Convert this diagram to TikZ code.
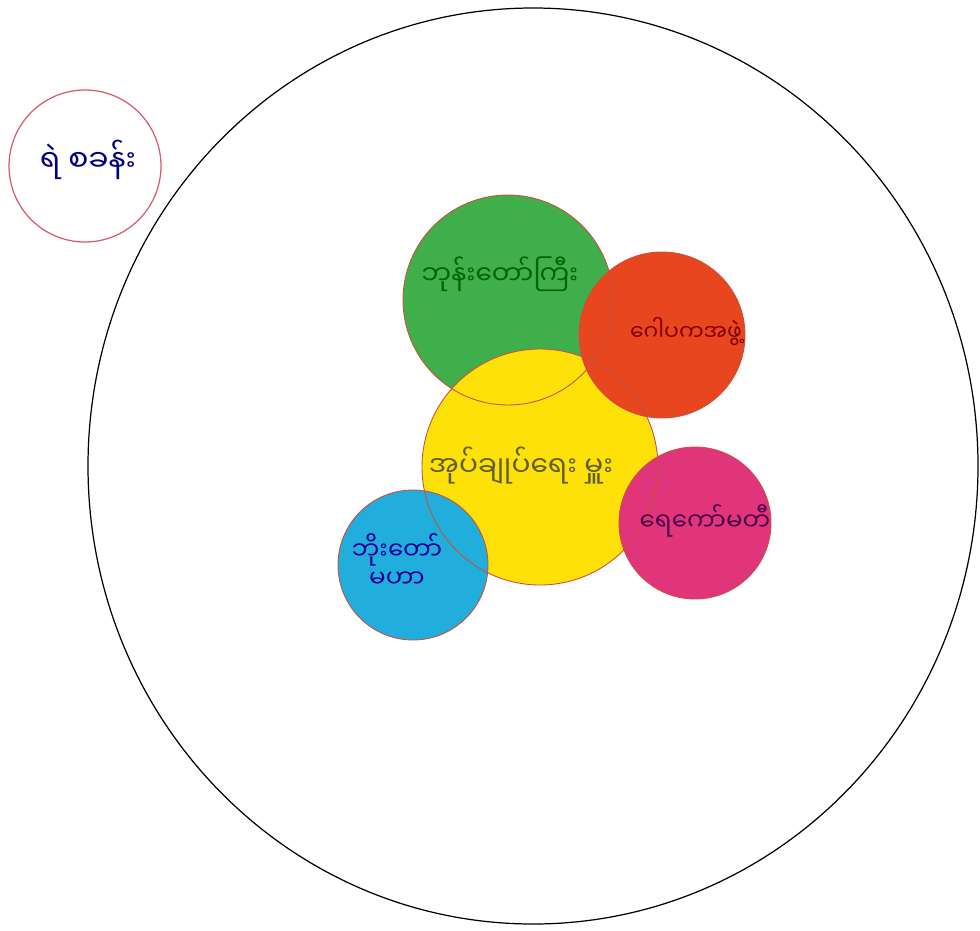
\documentclass[tikz,border=0pt]{standalone}
\usepackage{fontspec}
\newfontfamily\mya[Script=Myanmar]{Noto Sans Myanmar UI}
\usetikzlibrary{positioning}
\definecolor{crayongreen}{HTML}{3FAF4C}
\definecolor{crayonred}{HTML}{E8461E}
\definecolor{crayonyellow}{HTML}{FFE10A}
\definecolor{crayonpink}{HTML}{E0357A}
\definecolor{crayonblue}{HTML}{22AEDC}
\definecolor{rimred}{HTML}{C8503E}
\definecolor{policered}{HTML}{D65A6E}
\tikzset{
  spot/.style={circle,inner sep=0pt},
  rim/.style={draw=rimred,line width=0.5pt},
  word/.style={font=\mya\fontsize{#1}{16}\selectfont,align=center,inner sep=1pt},
  word/.default=14
}
\begin{document}
\begin{tikzpicture}[x=0.02cm,y=-0.02cm]
\useasboundingbox (0,0) rectangle (980,930);
% community boundary
\draw[line width=0.7pt] (533,466) ellipse [x radius=445, y radius=458];
% outside station
\node[spot, minimum size=3.04cm, draw=policered, line width=0.7pt] (police) at (85,166) {};
\node[word=17, text=blue!50!black] (policetext) at (88,160) {ရဲ စခန်း};
% crayon circles
\node[spot, minimum size=4.2cm, fill=crayongreen] (monk) at (508,300) {};
\node[spot, minimum size=4.72cm, fill=crayonyellow] (admin) at (540,467) {};
\node[spot, minimum size=3.32cm, fill=crayonred] (gopaka) at (662,335) {};
\node[spot, minimum size=3.04cm, fill=crayonpink] (water) at (695,523) {};
\node[spot, minimum size=3.0cm, fill=crayonblue] (botaw) at (413,565) {};
\foreach \n/\r in {monk/105, admin/118, gopaka/83, water/76, botaw/75}
  \draw[rim] (\n.center) circle [radius=\r];
% labels
\node[word=15, text=green!40!black] (monktext) at (500,274) {ဘုန်းတော်ကြီး};
\node[word=12.5, text=red!50!black] (gopakatext) at (686,332) {ဂေါပကအဖွဲ့};
\node[word=16, text=olive!60!black] (admintext) at (521,466) {အုပ်ချုပ်ရေး မှူး};
\node[word=14, text=violet!60!black] (watertext) at (705,521) {ရေကော်မတီ};
\node[word=14, text=blue!60!black] (botawtext) at (397,561) {ဘိုးတော်\\မဟာ};
\end{tikzpicture}
\end{document}
